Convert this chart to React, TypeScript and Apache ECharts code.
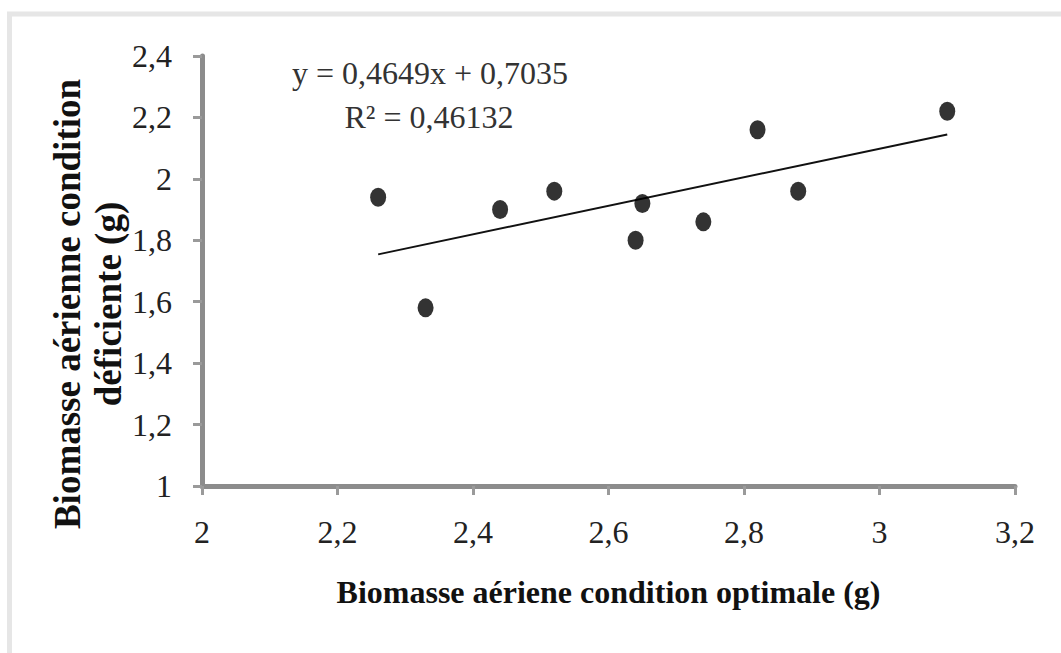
import React, { useEffect, useRef } from "react";
import * as echarts from "echarts";

// Data
const xValues = [2.26, 2.33, 2.44, 2.52, 2.64, 2.65, 2.74, 2.82, 2.88, 3.1];
const yValues = [1.94, 1.58, 1.9, 1.96, 1.8, 1.92, 1.86, 2.16, 1.96, 2.22];
const slope = 0.4649;
const intercept = 0.7035;
const equationText = "y = 0,4649x + 0,7035";
const r2Text = "R\u00b2 = 0,46132";
const xTickLabels = ["2", "2,2", "2,4", "2,6", "2,8", "3", "3,2"];
const yTickLabels = ["1", "1,2", "1,4", "1,6", "1,8", "2", "2,2", "2,4"];
const xTitle = "Biomasse aériene condition optimale (g)";
const yTitleLines = ["Biomasse aérienne condition", "déficiente (g)"];

const SERIF = "'Liberation Serif', 'Times New Roman', serif";

export default function App() {
  const ref = useRef<HTMLDivElement>(null);

  useEffect(() => {
    if (!ref.current) return;
    const chart = echarts.init(ref.current, undefined, {
      renderer: "svg",
      width: 1061,
      height: 653,
    });

    const points = xValues.map((x, i) => [x, yValues[i]]);
    const xMin = Math.min(...xValues);
    const xMax = Math.max(...xValues);
    const trend = [
      [xMin, slope * xMin + intercept],
      [xMax, slope * xMax + intercept],
    ];

    const xLabelFor = (v: number) => {
      const idx = Math.round((v - 2) / 0.2);
      return xTickLabels[idx] ?? "";
    };
    const yLabelFor = (v: number) => {
      const idx = Math.round((v - 1) / 0.2);
      return yTickLabels[idx] ?? "";
    };

    chart.setOption({
      animation: false,
      backgroundColor: "#ffffff",
      grid: { left: 202, right: 46, top: 56, bottom: 167, containLabel: false },
      xAxis: {
        type: "value",
        min: 2,
        max: 3.2,
        interval: 0.2,
        splitLine: { show: false },
        axisLine: { show: true, lineStyle: { color: "#8c8c8c", width: 5 } },
        axisTick: { show: true, inside: false, length: 9, lineStyle: { color: "#9a9a9a", width: 3 } },
        axisLabel: {
          formatter: xLabelFor,
          fontFamily: SERIF,
          fontSize: 32,
          color: "#222",
          margin: 30,
        },
        name: xTitle,
        nameLocation: "middle",
        nameGap: 90,
        nameTextStyle: { fontFamily: SERIF, fontWeight: "bold", fontSize: 32, color: "#111" },
      },
      yAxis: {
        type: "value",
        min: 1,
        max: 2.4,
        interval: 0.2,
        splitLine: { show: false },
        axisLine: { show: true, lineStyle: { color: "#8c8c8c", width: 5 } },
        axisTick: { show: true, inside: false, length: 9, lineStyle: { color: "#9a9a9a", width: 3 } },
        axisLabel: {
          formatter: yLabelFor,
          fontFamily: SERIF,
          fontSize: 32,
          color: "#222",
          margin: 30,
        },
      },
      series: [
        {
          type: "line",
          data: trend,
          symbol: "none",
          lineStyle: { color: "#111", width: 2 },
          z: 2,
        },
        {
          type: "scatter",
          data: points,
          symbol: "path://M0,10 A10,10 0 1 1 20,10 A10,10 0 1 1 0,10 Z",
          symbolSize: [16, 19],
          itemStyle: { color: "#000" },
          z: 3,
        },
      ],
      graphic: [
        {
          type: "rect",
          shape: { x: 9.5, y: 14, width: 1200, height: 800 },
          style: { fill: "none", stroke: "#e6e6e6", lineWidth: 5 },
          silent: true,
        },
        {
          type: "text",
          x: 430,
          y: 73,
          style: {
            text: equationText,
            fontFamily: SERIF,
            fontSize: 32,
            fill: "#333",
            textAlign: "center",
            textVerticalAlign: "middle",
          },
        },
        {
          type: "text",
          x: 429,
          y: 117,
          style: {
            text: r2Text,
            fontFamily: SERIF,
            fontSize: 32,
            fill: "#333",
            textAlign: "center",
            textVerticalAlign: "middle",
          },
        },
        {
          type: "text",
          x: 88,
          y: 304,
          rotation: Math.PI / 2,
          style: {
            text: yTitleLines.join("\n"),
            fontFamily: SERIF,
            fontWeight: "bold",
            fontSize: 37,
            lineHeight: 41,
            fill: "#111",
            textAlign: "center",
            textVerticalAlign: "middle",
          },
        },
      ],
    });

    return () => {
      chart.dispose();
    };
  }, []);

  return (
    <div
      ref={ref}
      style={{ position: "fixed", left: 0, top: 0, width: 1061, height: 653, background: "#fff" }}
    />
  );
}
